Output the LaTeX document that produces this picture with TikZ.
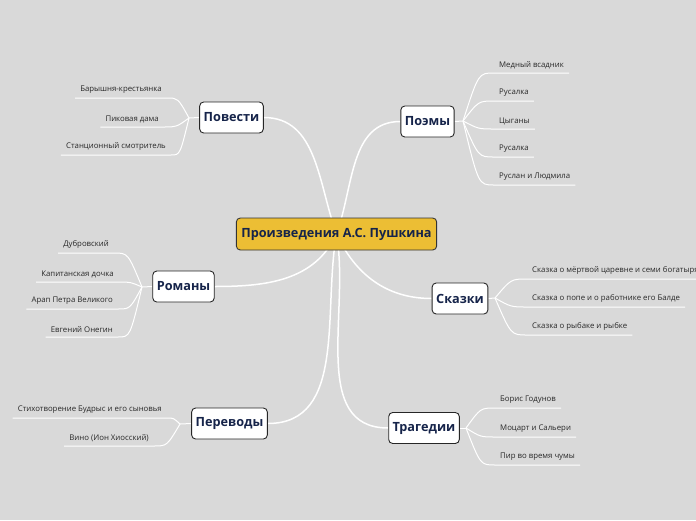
\documentclass[tikz,border=0pt]{standalone}
\usepackage{fontspec}
\setmainfont{Open Sans}
\usetikzlibrary{calc}
\definecolor{paper}{RGB}{217,217,217}
\definecolor{gold}{RGB}{236,190,52}
\definecolor{navy}{RGB}{22,36,74}
\definecolor{leafink}{RGB}{40,40,40}
\pgfdeclarelayer{back}
\pgfdeclarelayer{wires}
\pgfsetlayers{back,wires,main}

\begin{document}
\begin{tikzpicture}[x=1pt,y=-1pt,
  topic/.style={draw=black!85, fill=white, rounded corners=4pt, line width=0.9pt,
    font=\fontsize{12.7}{14}\selectfont\bfseries, text=navy, minimum height=31pt, inner xsep=4pt},
  leaf/.style={font=\fontsize{7.8}{9}\selectfont, text=leafink, inner xsep=5pt, inner ysep=4pt},
  wire/.style={white, line width=1.5pt},
  twig/.style={white, line width=1pt},
  fan/.style={to path={let \p1=(\tikztostart), \p2=(\tikztotarget) in
    .. controls ({(\x1+\x2)/2},\y2) .. (\tikztotarget)}}]
\path[use as bounding box] (0,0) rectangle (696,520);
\begin{pgfonlayer}{back}
\fill[paper] (0,0) rectangle (696,520);
\end{pgfonlayer}

% centre and topics:
\node[draw=black!80, fill=gold, rounded corners=4pt, line width=0.9pt, text=navy,
  font=\fontsize{12.7}{14}\selectfont\bfseries, minimum height=32pt, inner xsep=5pt]
  (root) at (336.5,234) {Произведения А.С. Пушкина};
\node[topic] (povesti) at (231.5,117.5) {Повести};
\node[topic] (poemy) at (427.5,121.5) {Поэмы};
\node[topic] (romany) at (183.5,286.5) {Романы};
\node[topic] (skazki) at (460,298.5) {Сказки};
\node[topic] (perevody) at (229.5,423.5) {Переводы};
\node[topic] (tragedii) at (424,428) {Трагедии};

\coordinate (jpov) at (189,118);
\coordinate (jpoe) at (463,121);
\coordinate (jrom) at (142,287);
\coordinate (jska) at (495,298);
\coordinate (jper) at (180,424);
\coordinate (jtra) at (466,428);

% left leaves:
\node[leaf, anchor=south east] (pov1) at (167,98) {Барышня-крестьянка};
\node[leaf, anchor=south east] (pov2) at (164,127) {Пиковая дама};
\node[leaf, anchor=south east] (pov3) at (171,155) {Станционный смотритель};
\node[leaf, anchor=south east] (rom1) at (114,253) {Дубровский};
\node[leaf, anchor=south east] (rom2) at (119,282) {Капитанская дочка};
\node[leaf, anchor=south east] (rom3) at (118,309) {Арап Петра Великого};
\node[leaf, anchor=south east] (rom4) at (118,337) {Евгений Онегин};
\node[leaf, anchor=south east] (per1) at (167,418) {Стихотворение Будрыс и его сыновья};
\node[leaf, anchor=south east] (per2) at (154,446) {Вино (Ион Хиосский)};
% right leaves:
\node[leaf, anchor=south west] (poe1) at (494,73) {Медный всадник};
\node[leaf, anchor=south west] (poe2) at (494,101) {Русалка};
\node[leaf, anchor=south west] (poe3) at (494,129) {Цыганы};
\node[leaf, anchor=south west] (poe4) at (494,157) {Русалка};
\node[leaf, anchor=south west] (poe5) at (494,185) {Руслан и Людмила};
\node[leaf, anchor=south west] (ska1) at (527,279) {Сказка о мёртвой царевне и семи богатырях};
\node[leaf, anchor=south west] (ska2) at (527,307) {Сказка о попе и о работнике его Балде};
\node[leaf, anchor=south west] (ska3) at (527,335) {Сказка о рыбаке и рыбке};
\node[leaf, anchor=south west] (tra1) at (495,408) {Борис Годунов};
\node[leaf, anchor=south west] (tra2) at (495,437) {Моцарт и Сальери};
\node[leaf, anchor=south west] (tra3) at (495,465) {Пир во время чумы};

\begin{pgfonlayer}{wires}
% centre to topics:
\draw[wire] (root.center) to[out=110,in=0] (povesti.east);
\draw[wire] (root.center) to[out=70,in=180] (poemy.west);
\draw[wire] (root.center) to[out=-115,in=0] (romany.east);
\draw[wire] (root.center) to[out=-65,in=180] (skazki.west);
\draw[wire] (root.center) to[out=-100,in=0] (perevody.east);
\draw[wire] (root.center) to[out=-80,in=180] (tragedii.west);
% topics to leaves:
\draw[twig] (povesti.west) -- (jpov);
\foreach \l in {pov1,pov2,pov3}
  \draw[twig] (jpov) to[fan] (\l.south east) -- (\l.south west);
\draw[twig] (romany.west) -- (jrom);
\foreach \l in {rom1,rom2,rom3,rom4}
  \draw[twig] (jrom) to[fan] (\l.south east) -- (\l.south west);
\draw[twig] (perevody.west) -- (jper);
\foreach \l in {per1,per2}
  \draw[twig] (jper) to[fan] (\l.south east) -- (\l.south west);
\draw[twig] (poemy.east) -- (jpoe);
\foreach \l in {poe1,poe2,poe3,poe4,poe5}
  \draw[twig] (jpoe) to[fan] (\l.south west) -- (\l.south east);
\draw[twig] (skazki.east) -- (jska);
\foreach \l in {ska1,ska2,ska3}
  \draw[twig] (jska) to[fan] (\l.south west) -- (\l.south east);
\draw[twig] (tragedii.east) -- (jtra);
\foreach \l in {tra1,tra2,tra3}
  \draw[twig] (jtra) to[fan] (\l.south west) -- (\l.south east);
\end{pgfonlayer}
\end{tikzpicture}
\end{document}
